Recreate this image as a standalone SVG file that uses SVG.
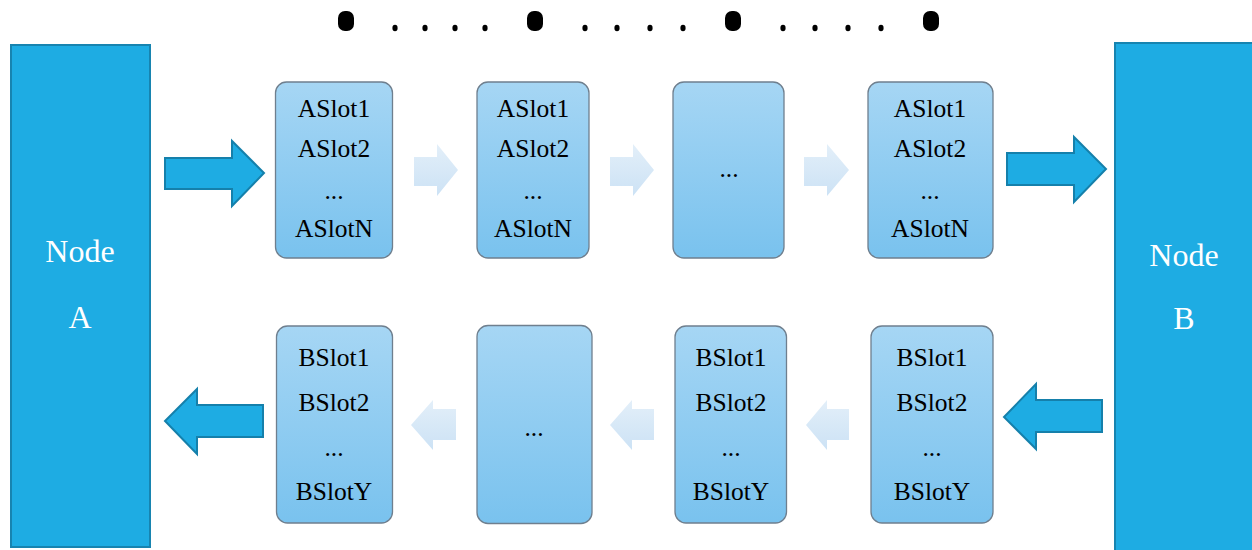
<svg xmlns="http://www.w3.org/2000/svg" width="1252" height="550" viewBox="0 0 1252 550">
<defs>
<linearGradient id="boxg" x1="0" y1="0" x2="0" y2="1">
<stop offset="0" stop-color="#a6d6f4"/>
<stop offset="1" stop-color="#79c2ee"/>
</linearGradient>
<linearGradient id="lightg" x1="0" y1="0" x2="0" y2="1">
<stop offset="0" stop-color="#e3eff9"/>
<stop offset="1" stop-color="#cce2f5"/>
</linearGradient>
</defs>
<style>
.node{fill:#1eace3;stroke:#1784b0;stroke-width:2}
.ntxt{font-family:"Liberation Serif",serif;font-size:32px;fill:#ffffff;text-anchor:middle}
.box{fill:url(#boxg);stroke:#6f7f8e;stroke-width:1.3}
.stxt{font-family:"Liberation Serif",serif;font-size:25.5px;fill:#000;text-anchor:middle}
.big{fill:#1eace3;stroke:#1580ab;stroke-width:2;stroke-linejoin:miter}
.light{fill:url(#lightg)}
.dot{fill:#000}
</style>
<g id="dots">
<rect class="dot" x="338" y="11" width="16" height="20" rx="7"/>
<rect class="dot" x="527" y="11" width="16" height="20" rx="7"/>
<rect class="dot" x="725" y="11" width="16" height="20" rx="7"/>
<rect class="dot" x="923" y="11" width="16" height="20" rx="7"/>
<ellipse class="dot" cx="395" cy="28" rx="2.6" ry="3.3"/>
<ellipse class="dot" cx="425" cy="28" rx="2.6" ry="3.3"/>
<ellipse class="dot" cx="455" cy="28" rx="2.6" ry="3.3"/>
<ellipse class="dot" cx="485" cy="28" rx="2.6" ry="3.3"/>
<ellipse class="dot" cx="585" cy="28" rx="2.6" ry="3.3"/>
<ellipse class="dot" cx="617" cy="28" rx="2.6" ry="3.3"/>
<ellipse class="dot" cx="650" cy="28" rx="2.6" ry="3.3"/>
<ellipse class="dot" cx="683" cy="28" rx="2.6" ry="3.3"/>
<ellipse class="dot" cx="783" cy="28" rx="2.6" ry="3.3"/>
<ellipse class="dot" cx="815" cy="28" rx="2.6" ry="3.3"/>
<ellipse class="dot" cx="848" cy="28" rx="2.6" ry="3.3"/>
<ellipse class="dot" cx="881" cy="28" rx="2.6" ry="3.3"/>
</g>
<g id="nodeA">
<rect class="node" x="11" y="45" width="139" height="502"/>
<text class="ntxt" x="80" y="262">Node</text>
<text class="ntxt" x="80" y="328">A</text>
</g>
<g id="nodeB">
<rect class="node" x="1115" y="43" width="140" height="510"/>
<text class="ntxt" x="1184" y="266">Node</text>
<text class="ntxt" x="1184" y="329">B</text>
</g>
<g id="a1">
<rect class="box" x="275.5" y="82" width="117" height="176" rx="11"/>
<text class="stxt" x="334" y="117">ASlot1</text>
<text class="stxt" x="334" y="157">ASlot2</text>
<text class="stxt" x="334" y="199">...</text>
<text class="stxt" x="334" y="237">ASlotN</text>
</g>
<g id="a2">
<rect class="box" x="477" y="82" width="112" height="176" rx="11"/>
<text class="stxt" x="533" y="117">ASlot1</text>
<text class="stxt" x="533" y="157">ASlot2</text>
<text class="stxt" x="533" y="199">...</text>
<text class="stxt" x="533" y="237">ASlotN</text>
</g>
<g id="a3">
<rect class="box" x="673" y="82" width="111" height="176" rx="11"/>
<text class="stxt" x="729" y="177">...</text>
</g>
<g id="a4">
<rect class="box" x="868" y="82" width="125" height="176" rx="11"/>
<text class="stxt" x="930" y="117">ASlot1</text>
<text class="stxt" x="930" y="157">ASlot2</text>
<text class="stxt" x="930" y="199">...</text>
<text class="stxt" x="930" y="237">ASlotN</text>
</g>
<g id="b1">
<rect class="box" x="276.5" y="326" width="116" height="197" rx="11"/>
<text class="stxt" x="334" y="366">BSlot1</text>
<text class="stxt" x="334" y="411">BSlot2</text>
<text class="stxt" x="334" y="456">...</text>
<text class="stxt" x="334" y="500">BSlotY</text>
</g>
<g id="b2">
<rect class="box" x="477" y="325.5" width="115" height="198" rx="11"/>
<text class="stxt" x="534" y="436">...</text>
</g>
<g id="b3">
<rect class="box" x="675" y="326" width="111.5" height="197" rx="11"/>
<text class="stxt" x="731" y="366">BSlot1</text>
<text class="stxt" x="731" y="411">BSlot2</text>
<text class="stxt" x="731" y="456">...</text>
<text class="stxt" x="731" y="500">BSlotY</text>
</g>
<g id="b4">
<rect class="box" x="871" y="326" width="122" height="197" rx="11"/>
<text class="stxt" x="932" y="366">BSlot1</text>
<text class="stxt" x="932" y="411">BSlot2</text>
<text class="stxt" x="932" y="456">...</text>
<text class="stxt" x="932" y="500">BSlotY</text>
</g>
<g id="connectors">
<polygon class="big" points="165,158 232,158 232,141 264,173 232,206 232,189 165,189"/>
<polygon class="big" points="1007,153 1074,153 1074,137 1106,169 1074,202 1074,185 1007,185"/>
<polygon class="big" points="1102,400 1036,400 1036,384 1004,417 1036,449 1036,432 1102,432"/>
<polygon class="big" points="263,405 197,405 197,389 165,421 197,454 197,437 263,437"/>
<polygon class="light" points="414,157 437,157 437,144 458,170 437,196 437,186 414,186"/>
<polygon class="light" points="610,157 633,157 633,144 654,170 633,196 633,186 610,186"/>
<polygon class="light" points="804,157 827,157 827,144 849,170 827,196 827,186 804,186"/>
<polygon class="light" points="456,409 433,409 433,400 411,425 433,450 433,440 456,440"/>
<polygon class="light" points="654,409 632,409 632,400 610,425 632,450 632,440 654,440"/>
<polygon class="light" points="849,409 827,409 827,400 806,425 827,450 827,440 849,440"/>
</g>
</svg>
